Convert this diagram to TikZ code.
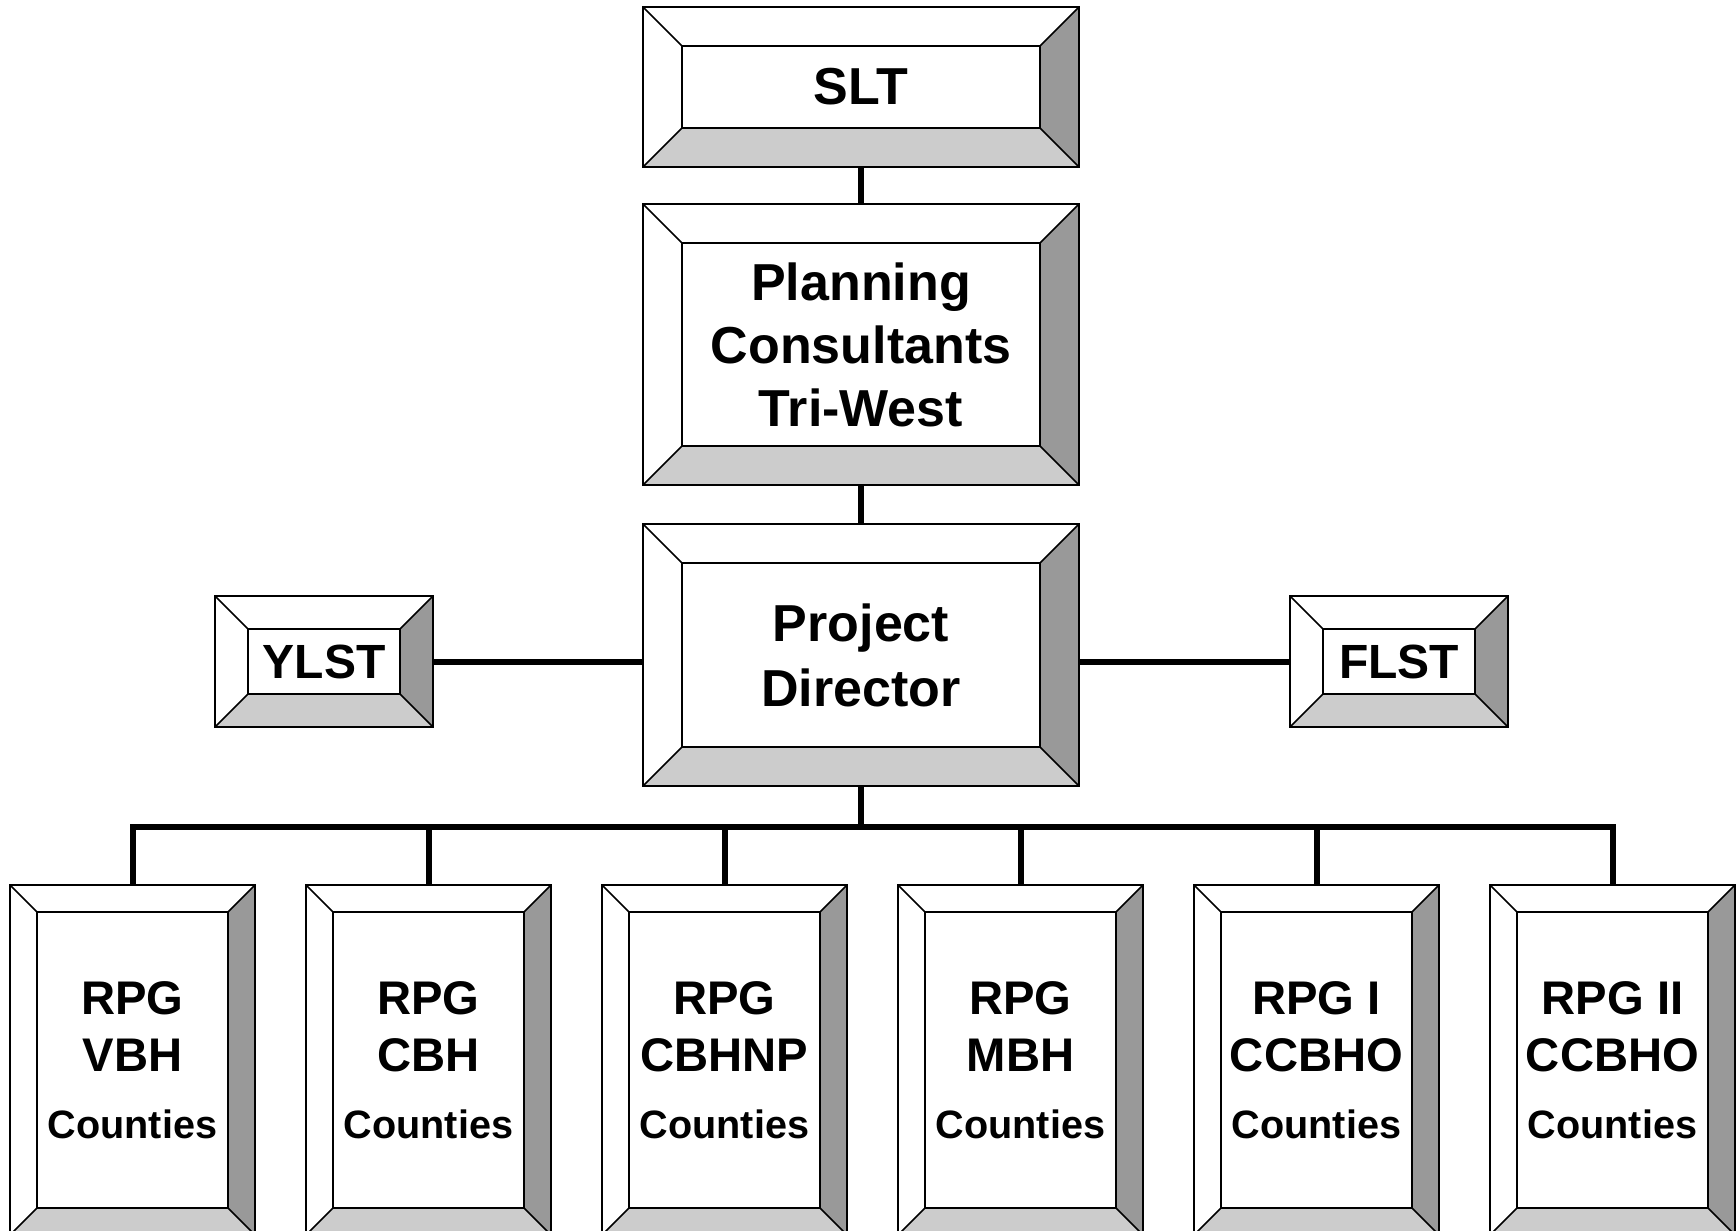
\documentclass[tikz,border=0pt]{standalone}
\usepackage{fontspec}
\setmainfont{Liberation Sans}
\usetikzlibrary{calc}
\definecolor{bevelright}{HTML}{999999}
\definecolor{bevelbottom}{HTML}{CCCCCC}
\newcommand{\cty}{\fontsize{19.8}{28}\selectfont}
% bevelled frame drawn inside a node, #1 = width of the bevel
\newcommand{\bevelframe}[1]{%
  \path (path picture bounding box.south west) coordinate (osw)
        (path picture bounding box.north east) coordinate (one);
  \path (osw) ++(#1,#1) coordinate (isw) (one) ++(-#1,-#1) coordinate (ine);
  \fill[bevelbottom] (osw) -- (osw -| one) -- (isw -| ine) -- (isw) -- cycle;
  \fill[bevelright] (osw -| one) -- (one) -- (ine) -- (isw -| ine) -- cycle;
  \draw[line width=0.8pt] (isw) rectangle (ine);
  \draw[line width=0.8pt] (osw) -- (isw) (one) -- (ine)
     (osw -| one) -- (isw -| ine) (osw |- one) -- (isw |- ine);
}
\begin{document}
\begin{tikzpicture}
		[x=0.5pt,y=-0.5pt,line join=miter]
			\tikzstyle{every node}=[draw, fill=white, line width=0.8pt,
		inner sep=0pt, outer sep=0pt, align=center, font=\bfseries]
			\tikzstyle{topbox}=[minimum width=218pt, path picture={\bevelframe{19.5pt}}]
			\tikzstyle{sidebox}=[minimum width=109pt, minimum height=65.5pt,
		path picture={\bevelframe{16.5pt}}, font=\bfseries\fontsize{24}{28}\selectfont]
			\tikzstyle{rpgbox}=[minimum width=122.5pt, minimum height=175pt,
		path picture={\bevelframe{13.5pt}}, font=\bfseries\fontsize{23.6}{28.5}\selectfont]
			\tikzstyle{link}=[line width=3pt]
		\path[use as bounding box] (0,0) rectangle (1736,1231);
		%-----top
		 \node[topbox, minimum height=80pt, font=\bfseries\fontsize{26}{30}\selectfont]  (slt) at (861,87) {SLT};
		 \node[topbox, minimum height=140.5pt, font=\bfseries\fontsize{26}{31.5}\selectfont]  (plan) at (861,344.5) {Planning\\Consultants\\Tri-West};
		 \node[topbox, minimum height=131pt, font=\bfseries\fontsize{26}{32.5}\selectfont]  (pd) at (861,655) {Project\\Director};
		 \node[sidebox]  (ylst) at (324,661.5) {YLST};
		 \node[sidebox]  (flst) at (1399,661.5) {FLST};
		%-----regional groups
		 \node[rpgbox]  (vbh) at (132.5,1060) {RPG\\VBH\\[5pt]\cty Counties};
		 \node[rpgbox]  (cbh) at (428.5,1060) {RPG\\CBH\\[5pt]\cty Counties};
		 \node[rpgbox]  (cbhnp) at (724.5,1060) {RPG\\CBHNP\\[5pt]\cty Counties};
		 \node[rpgbox]  (mbh) at (1020.5,1060) {RPG\\MBH\\[5pt]\cty Counties};
		 \node[rpgbox]  (ccbhoa) at (1316.5,1060) {RPG I\\CCBHO\\[5pt]\cty Counties};
		 \node[rpgbox]  (ccbhob) at (1612.5,1060) {RPG II\\CCBHO\\[5pt]\cty Counties};
		 \coordinate (bus) at (861,827);
		 
		 \foreach \from/\to in {slt/plan,plan/pd}
		 \draw[link] (\from.south) -- (\to.north);
		 \draw[link] (ylst.east) -- (ylst.east -| pd.west);
		 \draw[link] (flst.west) -- (flst.west -| pd.east);
		 \draw[link] (pd.south) -- (bus);
		 \foreach \to in {vbh,cbh,cbhnp,mbh,ccbhoa,ccbhob}
		 \draw[link] (\to.north) |- (bus);
		 
		\end{tikzpicture}
\end{document}
